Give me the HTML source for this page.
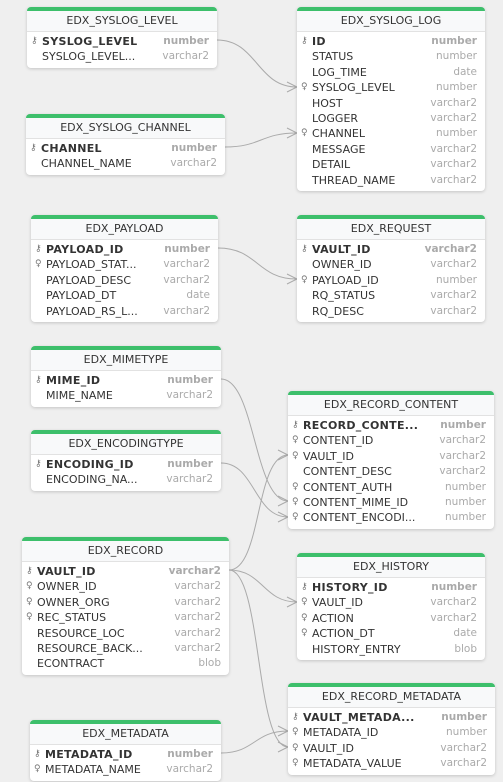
<!DOCTYPE html>
<html><head><meta charset="utf-8"><style>
body{margin:0;width:503px;height:782px;background:#efefef;position:relative;overflow:hidden;font-family:"DejaVu Sans","Liberation Sans",sans-serif;}
.t{position:absolute;background:#fff;border-top:4px solid #3dbf6b;border-radius:4px;box-shadow:0 1px 3px rgba(0,0,0,.18);padding-bottom:3px;}
.h{height:20px;line-height:20px;text-align:center;font-size:11px;color:#333;background:#f8f9fa;border-bottom:1px solid #e2e2e2;margin-bottom:2px;}
.r{height:15.4px;line-height:15.4px;font-size:11px;color:#333;position:relative;padding-left:15px;white-space:nowrap;}
.r b{font-weight:bold;letter-spacing:.3px;}
.r i{font-style:normal;position:absolute;right:8px;top:0;color:#aaa;font-size:10.5px;}
.r i.k{font-weight:bold;}
.r s{text-decoration:none;position:absolute;left:4px;top:0;font-size:9px;color:#777;}
svg{position:absolute;left:0;top:0;}
</style></head><body>
<svg width="503" height="782" fill="none" stroke="#aaa" stroke-width="1">
<path d="M217 40 C257 40,257 87,297 87"/>
<path d="M225 147 C261 147,261 133,297 133"/>
<path d="M218 248 C258 248,257 279,297 279"/>
<path d="M221 379 C255 379,254 501,288 501"/>
<path d="M221 463 C255 463,254 517,288 517"/>
<path d="M229 570 C262 570,255 455,288 455"/>
<path d="M229 570 C263 570,263 602,297 602"/>
<path d="M229 570 C262 570,255 747,288 747"/>
<path d="M221 753 C255 753,254 731,288 731"/>
<path d="M287 82 L297 87 L287 92 M287 128 L297 133 L287 138 M287 274 L297 279 L287 284 M278 496 L288 501 L278 506 M278 512 L288 517 L278 522 M278 450 L288 455 L278 460 M287 597 L297 602 L287 607 M278 742 L288 747 L278 752 M278 726 L288 731 L278 736"/>
</svg>

<div class="t" style="left:27px;top:7px;width:190px"><div class="h">EDX_SYSLOG_LEVEL</div>
<div class="r"><s>⚷</s><b>SYSLOG_LEVEL</b><i class="k">number</i></div>
<div class="r">SYSLOG_LEVEL...<i>varchar2</i></div></div>

<div class="t" style="left:297px;top:7px;width:188px"><div class="h">EDX_SYSLOG_LOG</div>
<div class="r"><s>⚷</s><b>ID</b><i class="k">number</i></div>
<div class="r">STATUS<i>number</i></div>
<div class="r">LOG_TIME<i>date</i></div>
<div class="r"><s>♀</s>SYSLOG_LEVEL<i>number</i></div>
<div class="r">HOST<i>varchar2</i></div>
<div class="r">LOGGER<i>varchar2</i></div>
<div class="r"><s>♀</s>CHANNEL<i>number</i></div>
<div class="r">MESSAGE<i>varchar2</i></div>
<div class="r">DETAIL<i>varchar2</i></div>
<div class="r">THREAD_NAME<i>varchar2</i></div></div>

<div class="t" style="left:26px;top:114px;width:199px"><div class="h">EDX_SYSLOG_CHANNEL</div>
<div class="r"><s>⚷</s><b>CHANNEL</b><i class="k">number</i></div>
<div class="r">CHANNEL_NAME<i>varchar2</i></div></div>

<div class="t" style="left:31px;top:215px;width:187px"><div class="h">EDX_PAYLOAD</div>
<div class="r"><s>⚷</s><b>PAYLOAD_ID</b><i class="k">number</i></div>
<div class="r"><s>♀</s>PAYLOAD_STAT...<i>varchar2</i></div>
<div class="r">PAYLOAD_DESC<i>varchar2</i></div>
<div class="r">PAYLOAD_DT<i>date</i></div>
<div class="r">PAYLOAD_RS_L...<i>varchar2</i></div></div>

<div class="t" style="left:297px;top:215px;width:188px"><div class="h">EDX_REQUEST</div>
<div class="r"><s>⚷</s><b>VAULT_ID</b><i class="k">varchar2</i></div>
<div class="r">OWNER_ID<i>varchar2</i></div>
<div class="r"><s>♀</s>PAYLOAD_ID<i>number</i></div>
<div class="r">RQ_STATUS<i>varchar2</i></div>
<div class="r">RQ_DESC<i>varchar2</i></div></div>

<div class="t" style="left:31px;top:346px;width:190px"><div class="h">EDX_MIMETYPE</div>
<div class="r"><s>⚷</s><b>MIME_ID</b><i class="k">number</i></div>
<div class="r">MIME_NAME<i>varchar2</i></div></div>

<div class="t" style="left:31px;top:430px;width:190px"><div class="h">EDX_ENCODINGTYPE</div>
<div class="r"><s>⚷</s><b>ENCODING_ID</b><i class="k">number</i></div>
<div class="r">ENCODING_NA...<i>varchar2</i></div></div>

<div class="t" style="left:288px;top:391px;width:206px"><div class="h">EDX_RECORD_CONTENT</div>
<div class="r"><s>⚷</s><b>RECORD_CONTE...</b><i class="k">number</i></div>
<div class="r"><s>♀</s>CONTENT_ID<i>varchar2</i></div>
<div class="r"><s>♀</s>VAULT_ID<i>varchar2</i></div>
<div class="r">CONTENT_DESC<i>varchar2</i></div>
<div class="r"><s>♀</s>CONTENT_AUTH<i>number</i></div>
<div class="r"><s>♀</s>CONTENT_MIME_ID<i>number</i></div>
<div class="r"><s>♀</s>CONTENT_ENCODI...<i>number</i></div></div>

<div class="t" style="left:22px;top:537px;width:207px"><div class="h">EDX_RECORD</div>
<div class="r"><s>⚷</s><b>VAULT_ID</b><i class="k">varchar2</i></div>
<div class="r"><s>♀</s>OWNER_ID<i>varchar2</i></div>
<div class="r"><s>♀</s>OWNER_ORG<i>varchar2</i></div>
<div class="r"><s>♀</s>REC_STATUS<i>varchar2</i></div>
<div class="r">RESOURCE_LOC<i>varchar2</i></div>
<div class="r">RESOURCE_BACK...<i>varchar2</i></div>
<div class="r">ECONTRACT<i>blob</i></div></div>

<div class="t" style="left:297px;top:553px;width:188px"><div class="h">EDX_HISTORY</div>
<div class="r"><s>⚷</s><b>HISTORY_ID</b><i class="k">number</i></div>
<div class="r"><s>♀</s>VAULT_ID<i>varchar2</i></div>
<div class="r"><s>♀</s>ACTION<i>varchar2</i></div>
<div class="r"><s>♀</s>ACTION_DT<i>date</i></div>
<div class="r">HISTORY_ENTRY<i>blob</i></div></div>

<div class="t" style="left:30px;top:720px;width:191px"><div class="h">EDX_METADATA</div>
<div class="r"><s>⚷</s><b>METADATA_ID</b><i class="k">number</i></div>
<div class="r"><s>♀</s>METADATA_NAME<i>varchar2</i></div></div>

<div class="t" style="left:288px;top:683px;width:207px"><div class="h">EDX_RECORD_METADATA</div>
<div class="r"><s>⚷</s><b>VAULT_METADA...</b><i class="k">number</i></div>
<div class="r"><s>♀</s>METADATA_ID<i>number</i></div>
<div class="r"><s>♀</s>VAULT_ID<i>varchar2</i></div>
<div class="r"><s>♀</s>METADATA_VALUE<i>varchar2</i></div></div>
</body></html>
